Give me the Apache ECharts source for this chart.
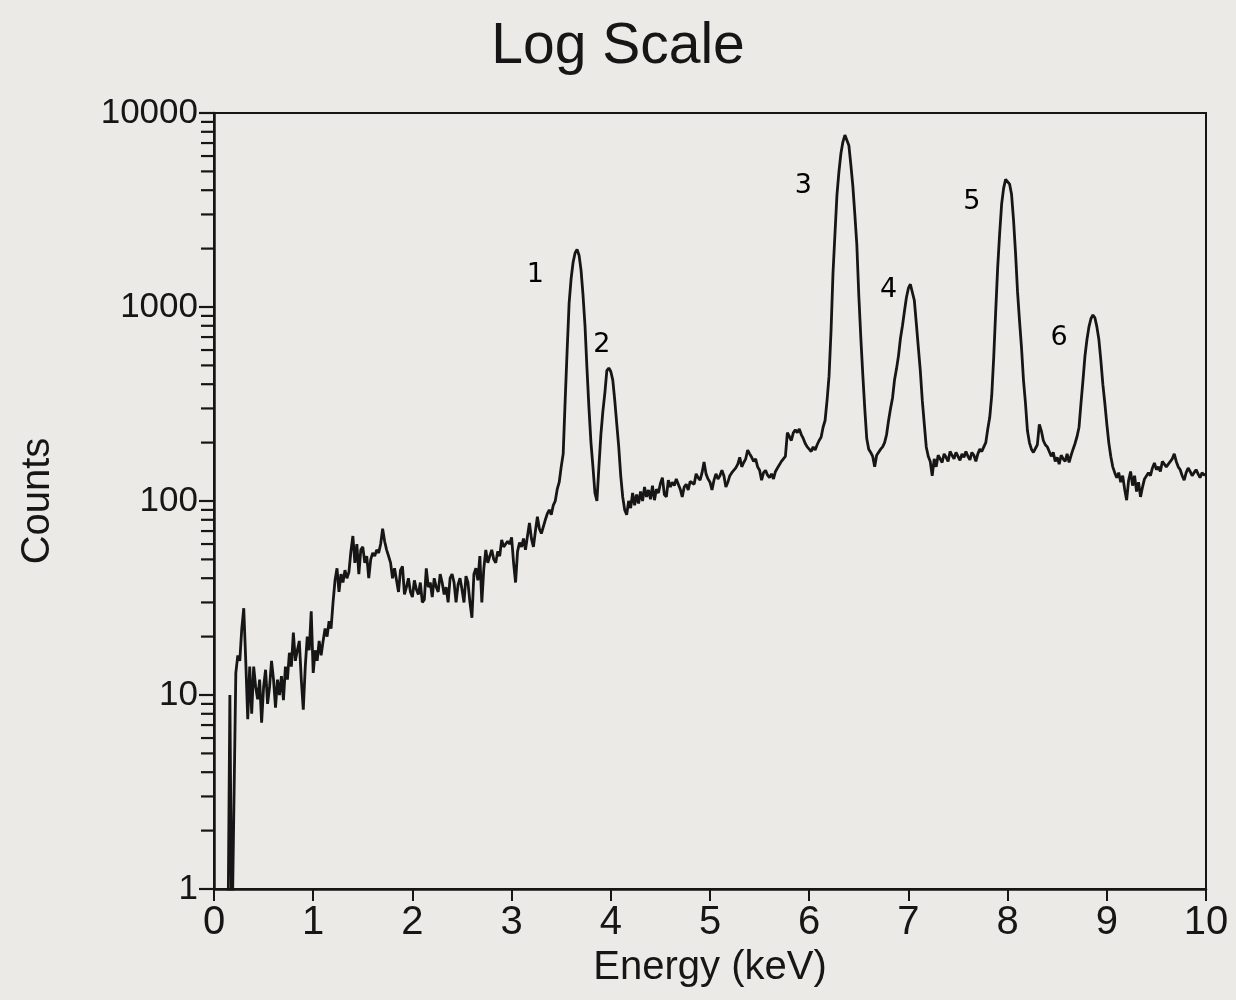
<!DOCTYPE html>
<html>
<head>
<meta charset="utf-8">
<script src="https://cdn.jsdelivr.net/npm/echarts@6/dist/echarts.min.js"></script>
<style>
html,body{margin:0;padding:0;background:#ebeae6;}
#chart{width:1236px;height:1000px;}
</style>
</head>
<body>
<div id="chart"></div>
<script>
// Spectrum: channel width 0.02 keV, starting at 0.00 keV
const energyStart = 0;
const energyStep = 0.02;
const counts = [
  null,null,null,null,null,null,null,0.5,10,0.5,
  0.5,13,16,15,22,28,15,7.5,14,8,
  14,11,9.5,12,7.2,11,13.5,9,11,15,
  12,8.6,12,10,12.5,9.4,14,12,16.5,14,
  21,15,17,19,12,8.4,14,20,17,27,
  13,17,15,19,16,19,22,20,24,22,
  30,39,45,34,42,38,44,40,43,55,
  66,48,60,42,56,58,48,52,40,50,
  54,52,56,54,60,72,62,56,52,48,
  40,45,39,34,44,46,33,36,40,34,
  32,39,35,33,38,30,31,45,36,38,
  32,40,36,34,42,38,33,36,30,40,
  42,38,30,37,40,35,30,41,38,30,
  25,42,45,39,52,30,45,56,48,52,
  56,50,48,55,52,63,58,58,62,60,
  65,48,38,55,61,58,64,56,66,77,
  64,58,70,83,72,68,68,80,86,90,
  85,95,100,115,125,150,175,330,600,1050,
  1400,1700,1900,1980,1850,1550,1150,800,480,300,
  200,150,110,100,150,220,290,360,470,485,
  465,420,330,250,190,135,105,90,85,100,
  92,110,95,108,97,112,100,118,105,114,
  102,120,101,115,110,
  123,132,108,105,128,118,125,120,130,128,
  115,105,118,122,114,126,128,122,138,132,
  128,140,159,138,130,125,114,128,138,130,
  135,144,135,118,125,135,140,138,148,155,
  168,150,158,165,183,175,168,160,165,150,
  144,128,140,144,136,132,138,130,142,148,
  145,160,165,170,225,215,205,225,233,225,
  235,220,210,198,190,185,180,190,183,195,
  205,213,240,260,330,440,750,1500,2400,3800,
  5000,6200,7100,7700,7800,6800,5400,4200,3000,2100,
  1150,700,450,300,210,185,178,170,150,172,
  168,185,190,200,220,260,300,340,420,480,
  560,690,800,950,1120,1250,1310,1280,1080,820,
  620,470,330,250,190,170,160,135,165,150,
  172,165,158,175,168,160,180,172,165,178,
  170,162,175,168,180,170,163,178,172,160,
  175,185,180,190,200,235,270,350,550,950,
  1600,2400,3400,4100,4550,4600,4300,3800,2800,1900,
  1200,850,620,420,320,230,200,185,178,175,
  195,248,230,205,195,190,180,170,178,160,
  168,155,172,165,160,175,158,172,185,198,
  215,240,320,420,560,680,790,870,910,880,
  790,680,530,400,320,250,200,170,150,140,
  132,140,125,135,115,101,128,142,120,135,
  112,125,105,118,130,128,140,135,148,157,
  145,150,142,160,162,150,155,152,165,175,
  160,150,145,135,128,140,148,142,135,140,
  145,138,132,140,136,138
];

// Peak annotation labels
const peakNames = ['1','2','3','4','5','6'];
const peakLabelX = [3.24, 3.91, 5.94, 6.80, 7.64, 8.52];
const peakLabelY = [1460, 640, 4200, 1220, 3480, 690];

// Axis ticks
const xTickLabels = ['0','1','2','3','4','5','6','7','8','9','10'];
const yDecades = [1, 10, 100, 1000];
const yMinorMultipliers = [2,3,4,5,6,7,8,9];

const lineData = counts.map((c, i) => [+(energyStart + i * energyStep).toFixed(2), c]);
const peakData = peakNames.map((n, i) => ({ value: [peakLabelX[i], peakLabelY[i]], name: n }));
const minorTicks = [];
yDecades.forEach(d => yMinorMultipliers.forEach(m => minorTicks.push([0, d * m])));

const ink = '#161616';
const chart = echarts.init(document.getElementById('chart'), null, { renderer: 'canvas' });
chart.setOption({
  backgroundColor: '#ebeae6',
  animation: false,
  title: {
    text: 'Log Scale',
    left: 'center',
    top: 14,
    textStyle: { fontFamily: 'Liberation Sans', fontSize: 57, fontWeight: 'normal', color: ink }
  },
  grid: {
    left: 214, right: 30, top: 113, bottom: 111,
    show: true, borderColor: ink, borderWidth: 2, backgroundColor: 'transparent'
  },
  xAxis: {
    type: 'value', min: 0, max: 10, interval: 1,
    name: 'Energy (keV)', nameLocation: 'middle', nameGap: 58,
    nameTextStyle: { fontFamily: 'Liberation Sans', fontSize: 40, color: ink },
    axisLine: { show: true, onZero: false, lineStyle: { color: ink, width: 2.5 } },
    axisTick: { show: true, inside: false, length: 12, lineStyle: { color: ink, width: 2 } },
    axisLabel: {
      margin: 14, fontFamily: 'Liberation Sans', fontSize: 40, color: ink,
      formatter: v => xTickLabels[Math.round(v)]
    },
    splitLine: { show: false }
  },
  yAxis: {
    type: 'log', logBase: 10, min: 1, max: 10000,
    name: 'Counts', nameLocation: 'middle', nameGap: 156, nameRotate: 90,
    nameTextStyle: { fontFamily: 'Liberation Sans', fontSize: 40, color: ink },
    axisLine: { show: true, lineStyle: { color: ink, width: 2.5 } },
    axisTick: { show: true, inside: false, length: 15, lineStyle: { color: ink, width: 2.2 } },
    axisLabel: {
      margin: 16, fontFamily: 'Liberation Sans', fontSize: 35, color: ink,
      formatter: v => String(Math.round(v))
    },
    splitLine: { show: false }
  },
  series: [
    {
      type: 'line',
      data: lineData,
      showSymbol: false,
      symbol: 'none',
      connectNulls: false,
      clip: true,
      lineStyle: { color: ink, width: 2.8 },
      z: 3
    },
    {
      type: 'custom',
      data: minorTicks,
      encode: { x: 0, y: 1 },
      clip: false,
      silent: true,
      renderItem: (params, api) => {
        const p = api.coord([api.value(0), api.value(1)]);
        return {
          type: 'line',
          shape: { x1: p[0] - 13, y1: p[1], x2: p[0], y2: p[1] },
          style: { stroke: ink, lineWidth: 2.2 }
        };
      },
      z: 4
    },
    {
      type: 'scatter',
      data: peakData,
      symbolSize: 1,
      itemStyle: { color: 'rgba(0,0,0,0)' },
      silent: true,
      label: {
        show: true, position: 'inside', formatter: p => p.name,
        fontFamily: 'DejaVu Sans', fontSize: 27, color: '#000', opacity: 1,
        textBorderWidth: 0, align: 'center', verticalAlign: 'middle'
      },
      z: 5
    }
  ]
});
</script>
</body>
</html>
